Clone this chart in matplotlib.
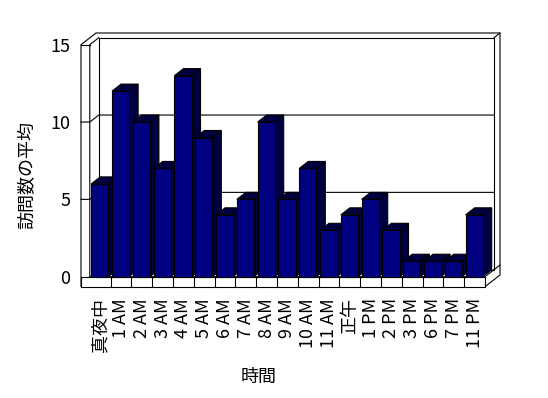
import numpy as np
import matplotlib.pyplot as plt
from matplotlib.patches import Polygon, Rectangle

plt.rcParams['font.family'] = ['Noto Sans CJK JP', 'DejaVu Sans']
plt.rcParams['font.size'] = 13

# data
hours = ['真夜中', '1 AM', '2 AM', '3 AM', '4 AM', '5 AM', '6 AM', '7 AM', '8 AM',
         '9 AM', '10 AM', '11 AM', '正午', '1 PM', '2 PM', '3 PM', '6 PM', '7 PM', '11 PM']
visits = [6, 12, 10, 7, 13, 9, 4, 5, 10, 5, 7, 3, 4, 5, 3, 1, 1, 1, 4]
y_ticks = [0, 5, 10, 15]

W, H = 548, 398
fig = plt.figure(figsize=(W / 100, H / 100), dpi=100)
ax = fig.add_axes([89.8 / W, 1 - 276.7 / H, (485 - 89.8) / W, (276.7 - 44.7) / H])
n = len(hours)
ymax = y_ticks[-1]
ax.set_xlim(0, n)
ax.set_ylim(0, ymax)

# pixel sizes of the fake 3d box, converted to data units
ux = (485 - 89.8) / n
uy = (276.7 - 44.7) / ymax
dx, dy = 9 / ux, 7 / uy        # depth
wall = 8.8 / ux               # left wall thickness
floor = 10 / uy               # floor thickness
bx, by = 6 / ux, 4.7 / uy     # back wall thickness

lw = 0.8
navy = '#000080'
dark = '#000040'


def poly(pts, fc='white', z=1):
    p = Polygon(pts, closed=True, facecolor=fc, edgecolor='black', lw=lw, zorder=z, clip_on=False)
    ax.add_patch(p)


def line(xs, ys, z=2):
    ax.plot(xs, ys, color='black', lw=lw, zorder=z, clip_on=False)


# outline of walls + floor
poly([(-wall, -floor), (-wall, ymax), (-wall + dx + bx, ymax + dy + by),
      (n + dx + bx, ymax + dy + by), (n + dx + bx, -floor + dy + by), (n, -floor)])
# back wall face
poly([(dx, dy), (n + dx, dy), (n + dx, ymax + dy), (dx, ymax + dy)], z=1.5)
# left wall inner face
line([0, 0, dx], [0, ymax, ymax + dy])
line([-wall, 0], [ymax, ymax])
line([n + dx, n + dx + bx], [ymax + dy, ymax + dy + by])
# floor
poly([(-wall, -floor), (n, -floor), (n, 0), (-wall, 0)], z=2)
line([0, n, n + dx], [0, 0, dy])
line([n + dx, n + dx + bx], [dy, dy + by])
for i in range(1, n):
    line([i, i], [-floor, 0])

# gridlines
for v in y_ticks[1:-1]:
    line([-wall, 0, dx, n + dx], [v, v, v + dy, v + dy])

# bars
for i, v in enumerate(visits):
    x0, w = i + 0.07, 0.82
    z = 3 + i * 0.01
    poly([(x0 + w, 0), (x0 + w + dx, dy), (x0 + w + dx, v + dy), (x0 + w, v)], fc=dark, z=z)
    poly([(x0, v), (x0 + w, v), (x0 + w + dx, v + dy), (x0 + dx, v + dy)], fc=dark, z=z)
    ax.add_patch(Rectangle((x0, 0), w, v, facecolor=navy, edgecolor='black', lw=lw,
                           zorder=z + 0.001, clip_on=False))

ax.set_yticks(y_ticks)
ax.tick_params(axis='y', length=0, pad=14, labelsize=13)
ax.set_xticks(np.arange(n) + 0.5)
ax.set_xticklabels(hours, rotation=90)
ax.tick_params(axis='x', length=0, pad=15.5, labelsize=13)

ax.set_ylabel('訪問数の平均', fontsize=13)
ax.yaxis.set_label_coords(-0.134, 0.438)
ax.set_xlabel('時間', fontsize=13)
ax.xaxis.set_label_coords(0.428, -0.395)

for s in ax.spines.values():
    s.set_visible(False)
ax.patch.set_visible(False)

fig.savefig('out.png', dpi=100)
